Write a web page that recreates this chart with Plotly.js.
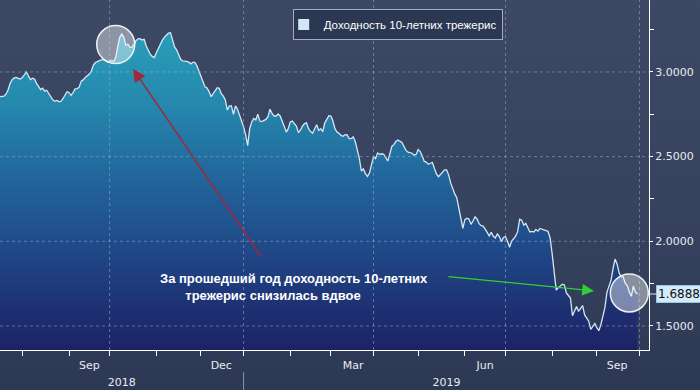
<!DOCTYPE html>
<html><head><meta charset="utf-8">
<script src="https://cdn.plot.ly/plotly-3.0.1.min.js"></script>
<style>
html,body{margin:0;padding:0;}
body{width:700px;height:390px;overflow:hidden;background:linear-gradient(to bottom,#3d4865 0%,#37425f 55%,#2d3854 100%);}
#chart{width:700px;height:390px;}
</style></head><body><div id="chart"></div>
<script>
// ---- data ----
const seriesName = 'Доходность 10-летних трежерис';
const startDate = '2018-07-17'; // first trading day shown
const yields = [
2.854,2.856,2.857,2.870,2.895,2.933,2.955,2.965,2.968,2.962,
2.958,2.967,2.985,3.000,2.976,2.955,2.963,2.958,2.933,2.910,
2.896,2.904,2.887,2.892,2.874,2.850,2.835,2.827,2.832,2.825,
2.826,2.842,2.864,2.883,2.879,2.862,2.878,2.900,2.902,2.910,
2.946,2.953,2.968,2.978,2.988,3.005,3.041,3.056,3.064,3.067,
3.072,3.073,3.068,3.058,3.064,3.068,3.062,3.085,3.150,3.205,
3.224,3.205,3.159,3.164,3.145,3.147,3.162,3.185,3.196,3.197,
3.189,3.193,3.155,3.125,3.105,3.092,3.085,3.114,3.140,3.165,
3.188,3.206,3.221,3.229,3.232,
3.185,3.148,3.131,3.105,3.075,3.065,3.065,3.063,3.058,3.048,
3.057,3.057,3.037,3.004,2.980,2.950,2.912,2.905,2.884,2.854,
2.871,2.888,2.907,2.903,2.872,2.857,2.835,2.775,2.800,2.800,
2.750,2.800,2.780,2.745,2.715,2.675,2.630,2.565,2.665,2.705,
2.726,2.717,2.750,2.710,2.707,2.712,2.720,2.736,2.780,2.755,
2.740,2.740,2.752,2.740,2.715,2.680,2.645,2.665,2.705,2.710,
2.695,2.680,2.642,2.656,2.680,2.695,2.700,2.665,2.648,2.638,
2.665,2.688,2.655,2.665,2.648,2.700,2.720,2.742,2.740,2.710,
2.665,2.645,2.638,
2.625,2.620,2.630,2.628,2.606,2.606,2.617,2.589,2.537,2.490,
2.415,2.427,2.400,2.384,2.403,2.445,2.500,2.488,2.522,2.514,
2.517,2.514,2.493,2.474,2.515,2.560,2.571,2.589,2.598,2.590,
2.583,2.560,2.537,2.526,2.525,2.520,2.508,2.514,2.542,2.530,
2.504,2.472,2.468,2.455,2.461,2.465,2.430,2.398,2.382,2.397,
2.408,2.422,2.422,2.392,2.345,2.310,2.280,2.258,2.195,2.120,
2.077,2.128,2.136,2.132,2.100,2.120,2.144,2.132,2.104,2.092,
2.090,2.072,2.053,2.032,2.053,2.030,2.020,2.043,2.028,1.998,
2.023,2.028,2.000,1.965,
2.000,2.013,2.030,2.057,2.130,2.125,2.095,2.106,2.077,2.055,
2.058,2.055,2.070,2.060,2.076,2.073,2.068,2.063,2.058,2.018,
1.925,1.820,1.712,1.725,1.735,1.746,1.742,1.695,1.680,1.665,
1.560,1.585,1.615,1.586,1.603,1.620,1.565,1.548,1.528,1.480,
1.500,1.514,1.490,1.472,1.508,1.565,1.610,1.700,1.740,1.770,
1.840,1.895,1.865,1.812,1.790,1.790,1.751,1.738,1.700,1.675,
1.735,1.700,1.6888
];
// first trading day of each month (weekends are skipped on the axis)
const monthStarts = ['2018-08-01','2018-09-03','2018-10-01','2018-11-01','2018-12-03','2019-01-01','2019-02-01','2019-03-01','2019-04-01','2019-05-01','2019-06-03','2019-07-01','2019-08-01','2019-09-02','2019-10-01'];
const quarterStarts = ['2018-10-01','2019-01-01','2019-04-01','2019-07-01','2019-10-01'];
const monthLabelDates = ['2018-09-17','2018-12-17','2019-03-18','2019-06-17','2019-09-16'];
const monthLabels = ['Sep','Dec','Mar','Jun','Sep'];
const yearLabelDates = ['2018-10-09','2019-05-21'];
const yearLabels = ['2018','2019'];
const yearStarts = ['2019-01-01'];
const yTicks = [1.5,2.0,2.5,3.0];
const yMinorTicks = [1.75,2.25,2.75,3.25];
const noteLines = ['За прошедший год доходность 10-летних','трежерис снизилась вдвое'];
const circleMarks = [{date:'2018-10-04', value:3.162},{date:'2019-09-24', value:1.695}];
const redArrowHead = {date:'2018-10-16 12:00', value:3.018};
const greenArrowHead = {date:'2019-08-29 14:00', value:1.707};

// ---- trading-day calendar ----
function tradingDays(start, n){
  const out=[]; const d=new Date(start+'T00:00:00Z');
  while(out.length<n){ const wd=d.getUTCDay(); if(wd!==0&&wd!==6) out.push(d.toISOString().slice(0,10)); d.setUTCDate(d.getUTCDate()+1); }
  return out;
}
const dates = tradingDays(startDate, yields.length);
const lastValue = yields[yields.length-1];

const xRange = ['2018-07-17','2019-10-07 16:48'];
const yRange = [1.358,3.425];
const breaks = [{pattern:'day of week', bounds:[6,1]}];
const tickFont = {family:'DejaVu Sans', size:11, color:'#e8ecf2'};
const gridLine = {color:'rgba(150,172,205,0.55)', width:1, dash:'dot'};

const traces = [
  {x:dates, y:yields, type:'scatter', mode:'lines', name:seriesName, showlegend:false,
   line:{color:'#d2e8f7', width:1.3}, fill:'tozeroy',
   fillgradient:{type:'vertical', start:yRange[0], stop:3.3,
     colorscale:[[0,'#1c2365'],[0.125,'#1e3072'],[0.33,'#204c8a'],[0.54,'#22689c'],[0.74,'#2587ad'],[1,'#2aa1bb']]}},
  {x:[null], y:[null], type:'scatter', mode:'markers', name:seriesName, xaxis:'x2',
   marker:{symbol:'square', size:11, color:'#d3e6f7'}},
  {x:[null], y:[null], type:'scatter', mode:'markers', showlegend:false, xaxis:'x3', hoverinfo:'skip'}
];

const shapes = [];
quarterStarts.forEach(d=>shapes.push({type:'line', xref:'x', yref:'paper', x0:d, x1:d, y0:0, y1:1, line:gridLine, layer:'above'}));
yTicks.forEach(v=>shapes.push({type:'line', xref:'paper', yref:'y', x0:0, x1:1, y0:v, y1:v, line:gridLine, layer:'above'}));
yearStarts.forEach(d=>shapes.push({type:'line', xref:'x', yref:'paper', x0:d, x1:d, y0:-0.063, y1:-0.12, line:{color:'#8a94aa', width:1}}));
circleMarks.forEach(c=>shapes.push({type:'circle', xref:'x', yref:'y', xsizemode:'pixel', ysizemode:'pixel',
  xanchor:c.date, yanchor:c.value, x0:-19, x1:19, y0:-19, y1:19,
  fillcolor:'rgba(255,255,255,0.42)', line:{color:'rgba(255,255,255,0.9)', width:1.5}, layer:'above'}));

const nb = '\u00a0'.repeat(7);
const annotations = [
  {x:redArrowHead.date, y:redArrowHead.value, xref:'x', yref:'y', text:'', showarrow:true,
   ax:129, ay:189, arrowcolor:'#a0283c', arrowwidth:1.6, arrowhead:2, arrowsize:1.6},
  {x:greenArrowHead.date, y:greenArrowHead.value, xref:'x', yref:'y', text:'', showarrow:true,
   ax:-147, ay:-14.5, arrowcolor:'#2fd03a', arrowwidth:1.3, arrowhead:2, arrowsize:1.8},
  {xref:'paper', yref:'paper', x:0.2435, y:0.18, xanchor:'left', yanchor:'middle', align:'left', showarrow:false,
   text:noteLines[0]+'<br>'+nb+noteLines[1],
   font:{family:'Liberation Sans', size:13, color:'#ffffff', weight:'bold'}},
  {xref:'paper', yref:'y', x:1, y:lastValue, text:lastValue.toFixed(4), showarrow:true, ax:30, ay:0,
   arrowhead:0, arrowwidth:1.2, arrowcolor:'#cfe8f8', bgcolor:'#d3ebf9', bordercolor:'#9cc7e2', borderwidth:1, borderpad:1,
   font:{family:'DejaVu Sans', size:12, color:'#111111'}}
];

const layout = {
  width:700, height:390, margin:{l:0, r:51, t:0, b:40},
  paper_bgcolor:'rgba(0,0,0,0)', plot_bgcolor:'rgba(0,0,0,0)',
  showlegend:true,
  legend:{x:0.451, y:0.974, xanchor:'left', yanchor:'top', bgcolor:'#2c3752', bordercolor:'#a4adc0', borderwidth:1,
    font:{family:'Liberation Sans', size:11.5, color:'#ffffff'}, itemwidth:30, indentation:-10},
  xaxis:{type:'date', range:xRange, rangebreaks:breaks, showgrid:false, zeroline:false,
    tickmode:'array', tickvals:monthStarts, showticklabels:false, ticks:'outside', ticklen:5, tickcolor:'#ffffff',
    showline:true, linecolor:'#ffffff', linewidth:1, fixedrange:true},
  xaxis2:{type:'date', overlaying:'x', anchor:'y', side:'bottom', range:xRange, rangebreaks:breaks, showgrid:false, zeroline:false,
    tickmode:'array', tickvals:monthLabelDates, ticktext:monthLabels, ticks:'', tickfont:tickFont, showline:false, ticklabelstandoff:7},
  xaxis3:{type:'date', overlaying:'x', anchor:'y', side:'bottom', range:xRange, rangebreaks:breaks, showgrid:false, zeroline:false,
    tickmode:'array', tickvals:yearLabelDates, ticktext:yearLabels, ticks:'', tickfont:tickFont, showline:false, ticklabelstandoff:24},
  yaxis:{side:'right', range:yRange, showgrid:false, zeroline:false, tickmode:'array', tickvals:yTicks, tickformat:'.4f',
    tickprefix:'▸', ticks:'outside', ticklen:3, tickcolor:'#ffffff', tickfont:tickFont,
    showline:true, linecolor:'#ffffff', linewidth:1,
    minor:{tickmode:'array', tickvals:yMinorTicks, ticks:'outside', ticklen:4, tickcolor:'#ffffff', showgrid:false}},
  shapes:shapes, annotations:annotations
};
Plotly.newPlot('chart', traces, layout, {staticPlot:true, displayModeBar:false});
</script></body></html>
